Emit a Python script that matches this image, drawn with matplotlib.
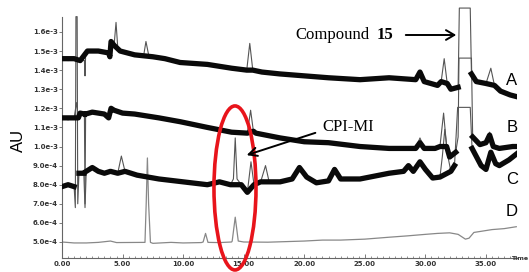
import numpy as np
import matplotlib
matplotlib.use("Agg")
import matplotlib.pyplot as plt
from matplotlib.patches import Ellipse, FancyArrowPatch

nan = np.nan

# retention time (min) and absorbance (x 1e-3 AU)
a_t = [0, 0.5, 1.0, 1.5, 1.85, 1.9, 1.95, 2.1, 3.0, 3.85, 3.95, 4.05, 4.3, 4.46, 4.6, 4.8, 6.0,
       6.75, 6.93, 7.15, 7.5, 8.5, 9.75, 12.0, 14.0, 15.25, 15.5, 15.75, 16.5, 18.0, 20.0, 22.0,
       24.6, 27.0, 29.2, 29.55, 29.9, 31.0, 31.3, 31.55, 31.8, 32.1, 32.7, 32.8, 33.7, 33.8,
       34.2, 35.0, 35.4, 35.7, 36.2, 37.0, 37.6]
a_v = [1.46, 1.45, 1.46, 1.45, 1.45, 1.37, 1.48, 1.50, 1.50, 1.49, 1.47, 1.55, 1.53, 1.65, 1.52,
       1.50, 1.48, 1.48, 1.55, 1.48, 1.47, 1.46, 1.44, 1.43, 1.41, 1.40, 1.54, 1.40, 1.39, 1.38,
       1.37, 1.36, 1.35, 1.36, 1.35, 1.39, 1.34, 1.32, 1.34, 1.46, 1.33, 1.30, 1.31, 1.725, 1.725,
       1.38, 1.34, 1.33, 1.41, 1.32, 1.29, 1.27, 1.26]
a_band_t = [0, 1.0, 1.5, 2.1, 3.0, 3.85, 3.95, 4.05, 4.3, 4.8, 6.0, 7.5, 8.5, 9.75, 12.0, 14.0,
            15.25, 15.75, 16.5, 18.0, 20.0, 22.0, 24.6, 27.0, 29.2, 29.55, 29.9, 31.0, 31.3,
            31.8, 32.1, 32.7, nan, 33.8, 34.2, 35.0, 35.7, 36.2, 37.0, 37.6]
a_band_v = [1.46, 1.46, 1.45, 1.50, 1.50, 1.49, 1.47, 1.55, 1.53, 1.50, 1.48, 1.47, 1.46, 1.44,
            1.43, 1.41, 1.40, 1.40, 1.39, 1.38, 1.37, 1.36, 1.35, 1.36, 1.35, 1.39, 1.34, 1.32,
            1.34, 1.33, 1.30, 1.31, nan, 1.38, 1.34, 1.33, 1.32, 1.29, 1.27, 1.26]

b_t = [0, 0.5, 1.0, 1.2, 1.35, 1.5, 1.85, 1.9, 1.95, 2.5, 3.0, 3.5, 3.85, 4.05, 4.3, 5.0, 6.0,
       8.0, 9.75, 12.0, 14.0, 15.3, 15.57, 15.8, 16.0, 18.0, 20.0, 22.0, 24.6, 27.0, 29.2,
       29.55, 29.9, 30.8, 31.2, 31.5, 31.75, 32.0, 32.5, 32.7, 32.77, 33.8, 33.9, 34.5, 35.0,
       35.3, 35.6, 36.1, 37.2, 37.6]
b_v = [1.15, 1.14, 1.15, 1.23, 1.15, 1.175, 1.17, 0.70, 1.17, 1.18, 1.175, 1.17, 1.15, 1.20,
       1.19, 1.175, 1.17, 1.15, 1.13, 1.10, 1.075, 1.07, 1.19, 1.08, 1.07, 1.045, 1.025, 1.02,
       1.00, 0.99, 0.99, 1.045, 0.99, 0.99, 1.00, 1.175, 1.00, 0.945, 0.97, 1.05, 1.463, 1.463,
       1.05, 1.01, 1.02, 1.075, 1.00, 0.99, 1.00, 1.00]
b_band_t = [0, 1.0, 1.35, 1.5, 1.85, nan, 1.95, 2.5, 3.5, 3.85, 4.05, 4.3, 5.0, 6.0, 8.0, 9.75,
            12.0, 14.0, 15.3, 15.8, 16.0, 18.0, 20.0, 22.0, 24.6, 27.0, 29.2, 29.55, 29.9,
            30.8, 31.2, 31.75, 32.0, 32.5, nan, 33.9, 34.5, 35.0, 35.3, 35.6, 36.1, 37.2, 37.6]
b_band_v = [1.15, 1.15, 1.15, 1.175, 1.17, nan, 1.17, 1.18, 1.17, 1.15, 1.20, 1.19, 1.175, 1.17,
            1.15, 1.13, 1.10, 1.075, 1.07, 1.08, 1.07, 1.045, 1.025, 1.02, 1.00, 0.99, 0.99,
            1.02, 0.99, 0.99, 1.00, 1.00, 0.945, 0.97, nan, 1.05, 1.01, 1.02, 1.06, 1.00, 0.99,
            1.00, 1.00]

c_t = [0, 0.5, 1.0, 1.1, 1.15, 1.25, 1.3, 1.4, 1.8, 1.9, 2.0, 2.5, 3.0, 3.5, 4.0, 4.6, 4.9,
       5.2, 6.2, 8.0, 10.0, 12.0, 13.0, 13.9, 14.15, 14.3, 14.45, 14.8, 15.3, 15.6, 15.85, 16.4,
       16.8, 17.1, 18.0, 19.0, 19.6, 20.2, 21.0, 22.0, 22.5, 23.0, 24.6, 27.0, 28.2, 28.6, 29.0,
       29.55, 30.0, 30.6, 31.2, 31.4, 31.6, 31.85, 32.1, 32.4, 32.66, 33.7, 33.85, 34.6, 35.0,
       35.4, 35.8, 36.1, 36.9, 37.6]
c_v = [0.79, 0.80, 0.79, 0.68, 1.68, 1.68, 0.70, 0.86, 0.86, 0.68, 0.87, 0.89, 0.87, 0.86,
       0.87, 0.86, 0.95, 0.87, 0.85, 0.83, 0.815, 0.80, 0.815, 0.80, 0.83, 1.045, 0.83, 0.80,
       0.76, 0.92, 0.80, 0.815, 0.90, 0.815, 0.815, 0.83, 0.89, 0.84, 0.81, 0.82, 0.88, 0.83,
       0.83, 0.86, 0.87, 0.90, 0.87, 0.92, 0.88, 0.835, 0.84, 0.95, 1.09, 0.95, 0.87, 0.90,
       1.205, 1.205, 0.99, 0.90, 0.88, 0.97, 0.91, 0.90, 0.93, 0.965]
c_band_t = [0, 0.5, 1.0, nan, 1.4, 1.8, nan, 2.0, 2.5, 3.0, 3.5, 4.0, 4.6, 5.2, 6.2, 8.0, 10.0,
            12.0, 13.0, 13.9, 14.8, 15.3, 15.85, 16.4, 17.1, 18.0, 19.0, 19.6, 20.2, 21.0,
            22.0, 22.5, 23.0, 24.6, 27.0, 28.2, 28.6, 29.0, 29.55, 30.0, 30.6, 31.2, 32.1, 32.4,
            nan, 33.85, 34.6, 35.0, 35.4, 35.8, 36.1, 36.9, 37.6]
c_band_v = [0.79, 0.80, 0.79, nan, 0.86, 0.86, nan, 0.87, 0.89, 0.87, 0.86, 0.87, 0.86, 0.87,
            0.85, 0.83, 0.815, 0.80, 0.815, 0.80, 0.80, 0.76, 0.80, 0.815, 0.815, 0.815, 0.83,
            0.89, 0.84, 0.81, 0.82, 0.88, 0.83, 0.83, 0.86, 0.87, 0.90, 0.87, 0.92, 0.88, 0.835,
            0.84, 0.87, 0.90, nan, 0.99, 0.90, 0.88, 0.97, 0.91, 0.90, 0.93, 0.965]

d_t = [0, 1.0, 2.0, 3.0, 4.0, 4.5, 6.85, 6.95, 7.05, 7.15, 7.3, 7.5, 9.0, 10.0, 11.5, 11.65,
       11.85, 12.05, 13.0, 14.0, 14.05, 14.3, 14.55, 15.0, 17.0, 20.0, 21.5, 23.0, 25.0, 27.0,
       28.5, 30.0, 31.0, 32.0, 32.7, 33.3, 33.6, 34.0, 35.0, 35.5, 36.5, 37.5]
d_v = [0.50, 0.495, 0.495, 0.498, 0.505, 0.497, 0.498, 0.70, 0.94, 0.70, 0.498, 0.493, 0.498,
       0.495, 0.497, 0.50, 0.545, 0.498, 0.497, 0.50, 0.505, 0.63, 0.505, 0.50, 0.499, 0.505,
       0.51, 0.51, 0.515, 0.525, 0.532, 0.54, 0.545, 0.548, 0.54, 0.515, 0.52, 0.55, 0.56,
       0.565, 0.57, 0.58]

yticks = [5e-4, 6e-4, 7e-4, 8e-4, 9e-4, 1.0e-3, 1.1e-3, 1.2e-3, 1.3e-3, 1.4e-3, 1.5e-3, 1.6e-3]
ytick_labels = ["5.0e-4", "6.0e-4", "7.0e-4", "8.0e-4", "9.0e-4", "1.0e-3", "1.1e-3",
                "1.2e-3", "1.3e-3", "1.4e-3", "1.5e-3", "1.6e-3"]
xticks = [0, 5, 10, 15, 20, 25, 30, 35]
xtick_labels = ["0.00", "5.00", "10.00", "15.00", "20.00", "25.00", "30.00", "35.00"]

W, H = 529, 272
fig = plt.figure(figsize=(W / 100, H / 100), dpi=100)
ax = fig.add_axes([62 / W, 14 / H, 455 / W, 252.8 / H])

scale = 1e-3
for t, v, bt, bv in [(a_t, a_v, a_band_t, a_band_v),
                     (b_t, b_v, b_band_t, b_band_v),
                     (c_t, c_v, c_band_t, c_band_v)]:
    ax.plot(t, np.array(v) * scale, color="#555555", lw=0.8, zorder=2)
    ax.plot(bt, np.array(bv) * scale, color="#0a0a0a", lw=3.8, solid_joinstyle="round",
            zorder=3)
ax.plot(d_t, np.array(d_v) * scale, color="#888888", lw=0.9, zorder=2)

ax.set_xlim(0, 37.56)
ax.set_ylim(4.162e-4, 1.74e-3)
for s in ["top", "right"]:
    ax.spines[s].set_visible(False)
for s in ["left", "bottom"]:
    ax.spines[s].set_color("#666666")
    ax.spines[s].set_linewidth(0.8)
ax.spines["left"].set_bounds(4.162e-4, 1.68e-3)

ax.set_yticks(yticks)
ax.set_yticklabels(ytick_labels)
ax.set_xticks(xticks)
ax.set_xticklabels(xtick_labels)
ax.set_xticks(np.arange(0, 37.6, 0.5), minor=True)
ax.tick_params(axis="y", direction="out", length=2, width=0.6, color="#666666", pad=1,
               labelsize=5, labelcolor="#333333")
ax.tick_params(axis="x", which="major", direction="in", length=3, width=0.6, color="#666666",
               pad=2.5, labelsize=5, labelcolor="#333333")
ax.tick_params(axis="x", which="minor", direction="in", length=1.5, width=0.5, color="#666666")
for lab in ax.get_xticklabels() + ax.get_yticklabels():
    lab.set_fontweight("bold")

# red ellipse around the CPI-MI peak
ax.add_patch(Ellipse((14.28, 7.83e-4), 3.47, 8.59e-4, fill=False, edgecolor="#e8141b",
                     lw=2.6, clip_on=False, zorder=5))

def fx(px):
    return px / W

def fy(py):
    return 1 - py / H

fig.text(fx(18), fy(140), "AU", rotation=90, ha="center", va="center", fontsize=12,
         family="Liberation Sans")
for lab, py in [("A", 80), ("B", 127), ("C", 180), ("D", 212)]:
    fig.text(fx(512), fy(py), lab, ha="center", va="center", fontsize=12,
             family="Liberation Sans")
fig.text(fx(528), fy(259), "Time", ha="right", va="center", fontsize=4.5, fontweight="bold",
         color="#333333")

fig.text(fx(295), fy(35), "Compound", ha="left", va="center", fontsize=12,
         family="Liberation Serif")
fig.text(fx(377), fy(35), "15", ha="left", va="center", fontsize=12, fontweight="bold",
         family="Liberation Serif")
fig.text(fx(322), fy(127), "CPI-MI", ha="left", va="center", fontsize=12,
         family="Liberation Serif")

fig.add_artist(FancyArrowPatch(
    (fx(403), fy(35)), (fx(459), fy(35)), transform=fig.transFigure,
    arrowstyle="->,head_length=6,head_width=3.5", lw=1.4, color="black"))
fig.add_artist(FancyArrowPatch(
    (fx(318), fy(132)), (fx(244), fy(156)), transform=fig.transFigure,
    arrowstyle="->,head_length=6,head_width=3", lw=1.4, color="black"))

fig.savefig("out.png", dpi=100)
